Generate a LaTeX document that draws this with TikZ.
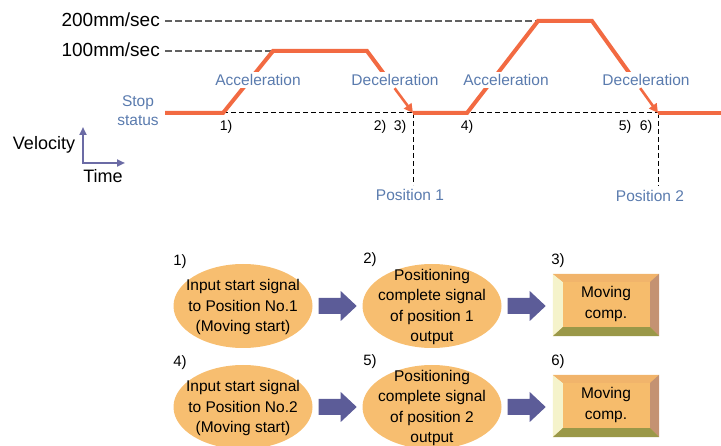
\documentclass[tikz,border=0pt]{standalone}
\usepackage{fontspec}
\setmainfont{Liberation Sans}
\usetikzlibrary{shapes.geometric,arrows.meta,calc}
\definecolor{vel}{HTML}{F26A42}
\definecolor{lbl}{HTML}{5A7BAE}
\definecolor{axc}{HTML}{6B6BA5}
\definecolor{blk}{HTML}{5C5C98}
\definecolor{ell}{HTML}{F7BE70}
\definecolor{face}{HTML}{F6BC6C}
\definecolor{bvL}{HTML}{F5F3CB}
\definecolor{bvT}{HTML}{F1B46B}
\definecolor{bvR}{HTML}{C49272}
\definecolor{bvB}{HTML}{9A9848}
\begin{document}
\begin{tikzpicture}[x=1pt,y=-1pt,
  big/.style={font=\fontsize{19}{22}\selectfont, inner sep=1pt},
  axlabel/.style={font=\fontsize{18}{21}\selectfont, inner sep=1pt},
  phase/.style={text=lbl, font=\fontsize{15.5}{19}\selectfont, fill=white, inner sep=2pt},
  stoplbl/.style={text=lbl, font=\fontsize{15.5}{19}\selectfont, align=center, inner sep=1pt},
  num/.style={font=\fontsize{14}{16}\selectfont, inner sep=0pt},
  bnum/.style={font=\fontsize{15}{17}\selectfont, inner sep=0pt},
  poslbl/.style={text=lbl, font=\fontsize{15.5}{19}\selectfont, inner sep=1pt},
  vline/.style={draw=vel, line width=4pt},
  thinarrow/.style={draw=vel, line width=2.6pt, -{Triangle[length=9pt,width=9pt]}},
  guide/.style={draw=black!62, line width=1.2pt, dash pattern=on 6.5pt off 3.5pt},
  baseln/.style={draw=black, line width=1pt, dash pattern=on 5pt off 3pt},
  oval/.style={ellipse, fill=ell, minimum width=139pt, minimum height=84pt, inner sep=0pt},
  body/.style={align=center, font=\fontsize{15.5}{20.3}\selectfont, inner sep=0pt},
  bevbox/.style={fill=face, minimum width=106pt, minimum height=62pt, inner sep=0pt}
]
\useasboundingbox (0,0) rectangle (721,446);

% ---------- velocity profile coordinates ----------
\coordinate (s0) at (165,113);
\coordinate (a1) at (223,113);
\coordinate (a1t) at (273,51);
\coordinate (d1s) at (367,51);
\coordinate (d1e) at (413,113);
\coordinate (a2) at (467,113);
\coordinate (a2t) at (538,21);
\coordinate (d2s) at (592,21);
\coordinate (d2e) at (658,113);
\coordinate (fin) at (721,113);

% speed labels
\node[big, anchor=east] (v200) at (161,20) {200mm/sec};
\node[big, anchor=east] (v100) at (161,50) {100mm/sec};
\draw[guide] ($(a2t -| v200.east)+(4,0)$) -- (a2t);
\draw[guide] ($(a1t -| v100.east)+(4,0)$) -- (a1t);

% baseline and position guides
\draw[baseln] (a1) -- (d2e);
\draw[baseln] (d1e) -- ++(0,72) coordinate (p1end);
\draw[baseln] (d2e) -- ++(0,73) coordinate (p2end);

% orange profile
\draw[vline] (s0) -- (a1) -- (a1t) -- (d1s) -- ($(d1s)!0.55!(d1e)$);
\draw[vline] (d1e) -- (a2) -- (a2t) -- (d2s) -- ($(d2s)!0.70!(d2e)$);
\draw[vline] (d2e) -- (fin);

% phase labels
\node[phase] (acc1) at (258,80) {Acceleration};
\node[phase] (dec1) at (395,80) {Deceleration};
\node[phase] (acc2) at (506,80) {Acceleration};
\node[phase] (dec2) at (646,80) {Deceleration};

\draw[thinarrow] ($(d1s)!0.60!(d1e)$) -- (d1e);
\draw[thinarrow] ($(d2s)!0.73!(d2e)$) -- (d2e);

\node[stoplbl] (stop) at (138,111) {Stop\\status};

% step numbers on the profile
\node[num] (q1) at (226,127) {1)};
\node[num] (q2) at (380,127) {2)};
\node[num] (q3) at (400,127) {3)};
\node[num] (q4) at (467,127) {4)};
\node[num] (q5) at (625,127) {5)};
\node[num] (q6) at (646,127) {6)};

\node[poslbl] (pos1) at (410,195) {Position 1};
\node[poslbl] (pos2) at (650,196) {Position 2};

% axes
\coordinate (org) at (83,163);
\coordinate (vtop) at (83,127);
\coordinate (tend) at (125,163);
\draw[draw=axc, line width=2pt, {Triangle[length=8pt,width=7pt]}-{Triangle[length=8pt,width=7pt]}] (vtop) -- (org) -- (tend);
\node[axlabel] (velo) at (44,145) {Velocity};
\node[axlabel] (time) at (103,176) {Time};

% ---------- flow rows ----------
\node[oval] (e1) at (243,306) {};
\node[body] (t1) at (243,307) {Input start signal\\to Position No.1\\(Moving start)};
\node[oval] (e2) at (432,306) {};
\node[body] (t2) at (432,307) {Positioning\\complete signal\\of position 1\\output};
\node[bevbox] (b3) at (606,305) {};

\node[oval] (e4) at (243,407) {};
\node[body] (t4) at (243,408) {Input start signal\\to Position No.2\\(Moving start)};
\node[oval] (e5) at (432,407) {};
\node[body] (t5) at (432,408) {Positioning\\complete signal\\of position 2\\output};
\node[bevbox] (b6) at (606,406) {};

\foreach \b in {b3,b6}{
  \fill[bvL] (\b.north west) -- (\b.south west) -- ($(\b.south west)+(10,-9)$) -- ($(\b.north west)+(10,8)$) -- cycle;
  \fill[bvT] (\b.north west) -- (\b.north east) -- ($(\b.north east)+(-9,8)$) -- ($(\b.north west)+(10,8)$) -- cycle;
  \fill[bvR] (\b.north east) -- (\b.south east) -- ($(\b.south east)+(-9,-9)$) -- ($(\b.north east)+(-9,8)$) -- cycle;
  \fill[bvB] (\b.south west) -- (\b.south east) -- ($(\b.south east)+(-9,-9)$) -- ($(\b.south west)+(10,-9)$) -- cycle;
}
\node[body] (t3) at (606,304) {Moving\\comp.};
\node[body] (t6) at (606,405) {Moving\\comp.};

% block arrows
\foreach \e in {e1,e2,e4,e5}{
  \fill[blk] ($(\e.east)+(6,-8)$) -- ++(22,0) -- ++(0,-7) -- ++(16,15) -- ++(-16,15) -- ++(0,-7) -- ++(-22,0) -- cycle;
}

% numbers
\node[bnum] (n1) at (180,262) {1)};
\node[bnum] (n2) at (370,260) {2)};
\node[bnum] (n3) at (558,261) {3)};
\node[bnum] (n4) at (180,363) {4)};
\node[bnum] (n5) at (370,362) {5)};
\node[bnum] (n6) at (558,362) {6)};
\end{tikzpicture}
\end{document}
